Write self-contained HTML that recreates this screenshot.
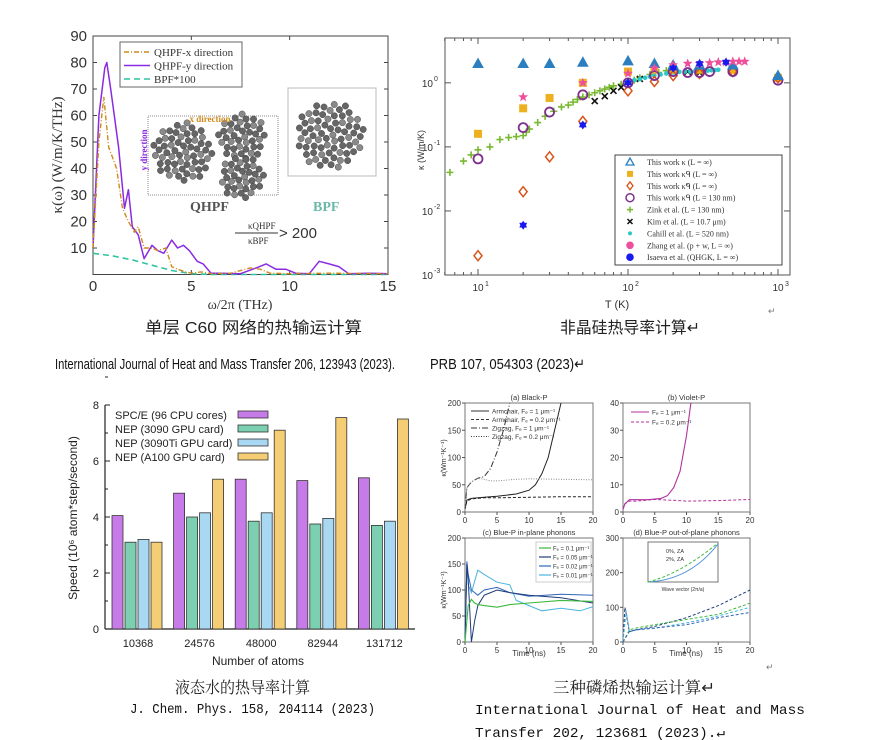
<!DOCTYPE html>
<html><head><meta charset="utf-8"><style>
html,body{margin:0;padding:0;background:#fff}
svg{display:block;font-family:"Liberation Sans","Noto Sans CJK SC",sans-serif}
</style></head><body>
<svg id="s" width="869" height="740" viewBox="0 0 869 740" xmlns="http://www.w3.org/2000/svg">
<rect width="869" height="740" fill="#fff"/>
<g font-family="'Liberation Sans','Noto Sans CJK SC',sans-serif">
<text x="145" y="333" font-size="16" textLength="217" lengthAdjust="spacingAndGlyphs" fill="#222">单层 C60 网络的热输运计算</text>
<text x="560" y="333" font-size="16" textLength="140" lengthAdjust="spacingAndGlyphs" fill="#222">非晶硅热导率计算↵</text>
<text x="55" y="369" font-size="15" textLength="340" lengthAdjust="spacingAndGlyphs" fill="#111">International Journal of Heat and Mass Transfer 206, 123943 (2023).</text>
<text x="430" y="369" font-size="15" textLength="155" lengthAdjust="spacingAndGlyphs" fill="#111">PRB 107, 054303 (2023)↵</text>
<text x="768" y="314" font-size="9" fill="#777">↵</text>
<text x="175" y="693" font-size="16" textLength="135" lengthAdjust="spacingAndGlyphs" fill="#222" font-family="'Noto Serif CJK SC',serif">液态水的热导率计算</text>
<text x="553" y="693" font-size="16" textLength="162" lengthAdjust="spacingAndGlyphs" fill="#222" font-family="'Noto Serif CJK SC',serif">三种磷烯热输运计算↵</text>
<text x="130" y="713" font-size="14" textLength="245" lengthAdjust="spacingAndGlyphs" fill="#111" font-family="'Liberation Mono',monospace">J. Chem. Phys. 158, 204114 (2023)</text>
<text x="475" y="714" font-size="14" textLength="330" lengthAdjust="spacingAndGlyphs" fill="#111" font-family="'Liberation Mono',monospace">International Journal of Heat and Mass</text>
<text x="475" y="737" font-size="14" textLength="250" lengthAdjust="spacingAndGlyphs" fill="#111" font-family="'Liberation Mono',monospace">Transfer 202, 123681 (2023).↵</text>
<text x="766" y="670" font-size="9" fill="#777">↵</text>
</g>
</svg>
<script>
// ---------- Chart A data (kappa spectrum) ----------
const aYx=[0,0.3,0.6,0.7,0.9,1.3,1.6,1.8,2.0,2.3,2.6,3.0,3.3,3.6,4.0,4.3,4.6,4.9,5.3,5.6,6.0,6.5,7.5,8.3,8.8,9.3,9.8,10.3,11.0,11.5,12.0,12.5,13.0,14.0,15];
const aYv=[10,60,78,80,70,48,25,32,18,15,6,11,9,8,13,10,11,9,5,4,0.5,0.5,0.3,2.5,4,2,2,0.5,0.3,5,4,3,0.3,0.5,0.3];
const aXx=[0,0.3,0.55,0.8,1.0,1.2,1.5,1.8,2.1,2.3,2.6,3.0,3.3,3.7,4.0,4.3,4.7,5.0,5.5,6,7,8,8.5,9,10,12,15];
const aXv=[10,50,67,48,44,40,25,20,16,18,10,10,9,10,3,2,1,0.5,1,0.3,0.5,2.5,2,0.5,0.3,0.5,0.3];
const aBx=[0,1,2,3,4,5,6,15];
const aBv=[8,7,5.5,3.5,1.5,0.3,0,0];
const aXticks=[0,5,10,15];
const aYticks=[10,20,30,40,50,60,70,80,90];
// ---------- Chart B data (a-Si) ----------
const bT=[10,20,30,50,100,150,200,300,500,1000];
const bTri=[2,2,2,2.1,2.2,2,1.9,1.9,1.9,1.3];
const bSq=[0.16,0.4,0.58,1.0,1.5,1.6,1.6,1.6,1.6,1.2];
const bDia=[0.002,0.02,0.07,0.25,0.75,1.05,1.3,1.4,1.5,1.2];
const bCircT=[10,20,30,50,100,150,200,250,300,350,500,1000];
const bCirc=[0.065,0.2,0.35,0.65,1.0,1.3,1.5,1.45,1.45,1.5,1.5,1.1];
const bZinkT=[6.5,8,9,10,12,14,16,18,20,21,22,25,28,32,36,40,43,46,50,55,60,65,70,75,80,90,100,110,120,140,160,180,200];
const bZink=[0.04,0.06,0.075,0.09,0.1,0.13,0.14,0.145,0.15,0.17,0.19,0.24,0.3,0.36,0.42,0.45,0.5,0.55,0.6,0.65,0.7,0.75,0.8,0.85,0.9,0.95,1.0,1.1,1.2,1.35,1.45,1.55,1.6];
const bKimT=[60,70,80,90,120,200,250,300];
const bKim=[0.52,0.62,0.75,0.85,1.15,1.5,1.5,1.45];
const bCahT=[100,110,120,130,140,150,165,180,200,220,240,260,280,300,320,340,360,380,400];
const bCah=[1.05,1.1,1.15,1.2,1.25,1.3,1.35,1.4,1.45,1.48,1.5,1.5,1.52,1.53,1.55,1.55,1.57,1.58,1.6];
const bZhT=[20,50,100,150,200,250,300,350,400,450,500,550,600];
const bZh=[0.6,1.0,1.4,1.7,1.9,2.0,2.0,2.05,2.1,2.1,2.15,2.15,2.15];
const bIsT=[20,50,100,200,300,450];
const bIs=[0.006,0.22,1.0,1.7,2.0,2.1];
// ---------- Chart C data (speed bars) ----------
const cCats=["10368","24576","48000","82944","131712"];
const cSPC=[4.05,4.85,5.35,5.3,5.4];
const cNEP3090=[3.1,4.0,3.85,3.75,3.7];
const cNEP3090Ti=[3.2,4.15,4.15,3.95,3.85];
const cA100=[3.1,5.35,7.1,7.55,7.5];
const cYticks=[0,2,4,6,8];
// ---------- Chart D data (phosphorene) ----------
const dA1t=[0,0.3,1,3,5,8,10,11,12,13,14,15], dA1k=[5,22,25,27,29,33,40,50,70,100,150,200];
const dA2t=[0,0.3,1,3,5,10,15,20], dA2k=[5,20,24,26,26,27,28,28];
const dZ1t=[0,0.3,1,2,3,4,5,6,7], dZ1k=[5,45,55,62,65,80,110,150,200];
const dZ2t=[0,0.3,1,2,3,4,5,8,10,15,20], dZ2k=[5,45,55,62,60,57,57,60,61,60,59];
const dV1t=[0,0.3,1,2,4,6,7,8,9,10,10.7], dV1k=[1,3,4.5,4.5,4.5,5,6,9,15,28,40];
const dV2t=[0,0.3,1,2,5,8,10,15,20], dV2k=[1,3,4,4,4.6,4.3,4,4.2,4.6];
const dC1t=[0,0.5,1,1.5,2,3,5,7,10,15,20], dC1k=[0,70,82,75,72,70,67,72,75,80,78];
const dC2t=[0,0.3,0.5,1,1.5,2,3,4,5,7,10,15,20], dC2k=[0,150,120,0,40,70,90,95,100,95,90,85,75];
const dC3t=[0,0.3,0.5,1,2,3,5,7,10,15,20], dC3k=[0,155,130,100,90,100,105,95,88,92,90];
const dC4t=[0,0.3,0.5,1,2,3,5,7,8,10,12,15,18,20], dC4k=[0,150,110,95,138,130,115,110,80,70,60,65,60,68];
const dD1t=[0,0.3,1,2,5,10,15,20], dD1k=[0,100,30,35,45,70,105,150];
const dD2t=[0,1,2,5,10,15,20], dD2k=[0,35,40,50,65,80,112];
const dD3t=[0,0.5,1,2,5,10,15,20], dD3k=[0,90,30,35,40,55,75,100];
const dD4t=[0,1,2,5,10,15,20], dD4k=[0,30,35,40,50,70,85];

const NS="http://www.w3.org/2000/svg";
const S=document.getElementById('s');
function el(tag,attrs,parent){const e=document.createElementNS(NS,tag);for(const k in attrs)e.setAttribute(k,attrs[k]);(parent||S).appendChild(e);return e;}
function lin(d0,d1,r0,r1){return v=>r0+(v-d0)/(d1-d0)*(r1-r0);}
function logs(d0,d1,r0,r1){return v=>r0+(Math.log10(v)-d0)/(d1-d0)*(r1-r0);}
function poly(xs,ys,sx,sy,attrs,name,g){const p=xs.map((x,i)=>sx(x).toFixed(1)+","+sy(ys[i]).toFixed(1)).join(" ");const e=el('polyline',Object.assign({points:p,fill:'none'},attrs),g);


return e;}
function txt(x,y,s,attrs,name,g){const e=el('text',Object.assign({x:x,y:y},attrs),g);e.textContent=s;


return e;}

// ===== Chart A =====
(function(){
const g=el('g',{});


const sx=lin(0,15,93,388), sy=lin(0,90,274.5,36);
el('rect',{x:93,y:36,width:295,height:238.5,fill:'none',stroke:'#444','stroke-width':1},g);
aXticks.forEach(t=>{el('line',{x1:sx(t),x2:sx(t),y1:274.5,y2:270,stroke:'#444'},g);el('line',{x1:sx(t),x2:sx(t),y1:36,y2:40,stroke:'#444'},g);txt(sx(t),291,t,{'font-size':15,'text-anchor':'middle',fill:'#333'},'x-tick-label',g);});
aYticks.forEach(t=>{el('line',{x1:93,x2:97,y1:sy(t),y2:sy(t),stroke:'#444'},g);el('line',{x1:388,x2:384,y1:sy(t),y2:sy(t),stroke:'#444'},g);txt(87,sy(t)+5,t,{'font-size':15,'text-anchor':'end',fill:'#333'},'y-tick-label',g);});
txt(240,309,'ω/2π (THz)',{'font-size':14,'text-anchor':'middle',fill:'#333','font-family':'Liberation Serif,serif'},'x-axis-title',g);
txt(0,0,'κ(ω) (W/m/K/THz)',{'font-size':15,'text-anchor':'middle',fill:'#333','font-family':'Liberation Serif,serif',transform:'translate(62,155) rotate(-90)'},'y-axis-title',g);
el('rect',{x:148,y:116,width:130,height:79,fill:'none',stroke:'#888','stroke-dasharray':'1,1'},g);
el('rect',{x:288,y:88,width:88,height:88,fill:'none',stroke:'#bbb'},g);
function cluster(cx,cy,r,n){for(let i=0;i<n;i++){const a=i*2.39996, rr=r*Math.sqrt((i+0.5)/n);el('circle',{cx:cx+rr*Math.cos(a),cy:cy+rr*Math.sin(a),r:3.2,fill:i%3?'#666':'#8a8a8a',stroke:'#333','stroke-width':0.4},g);}}
cluster(183,152,30,60);cluster(242,137,24,40);cluster(242,177,22,36);cluster(330,135,34,70);
txt(210,122,'x direction',{'font-size':9,'font-weight':'bold',fill:'#d08a1a','text-anchor':'middle','font-family':'Liberation Serif,serif'},'inset-x-direction',g);
txt(0,0,'y direction',{'font-size':9,'font-weight':'bold',fill:'#8a2be2','text-anchor':'middle','font-family':'Liberation Serif,serif',transform:'translate(147,150) rotate(-90)'},'inset-y-direction',g);
txt(190,211,'QHPF',{'font-size':14,'font-weight':'bold',fill:'#555','font-family':'Liberation Serif,serif'},'inset-qhpf',g);
txt(313,211,'BPF',{'font-size':14,'font-weight':'bold',fill:'#6ab8a8','font-family':'Liberation Serif,serif'},'inset-bpf',g);
txt(248,229,'κQHPF',{'font-size':9,fill:'#333','font-family':'Liberation Serif,serif'},'ratio-num',g);
el('line',{x1:235,x2:278,y1:233,y2:233,stroke:'#333'},g);
txt(248,244,'κBPF',{'font-size':9,fill:'#333','font-family':'Liberation Serif,serif'},'ratio-den',g);
txt(279,238,'> 200',{'font-size':15,fill:'#333'},'ratio-value',g);
poly(aBx,aBv,sx,sy,{stroke:'#2ec4a0','stroke-width':1.6,'stroke-dasharray':'6,4'},'series-bpf',g);
poly(aYx,aYv,sx,sy,{stroke:'#8a2be2','stroke-width':1.5,'stroke-linejoin':'round'},'series-qhpf-y',g);
poly(aXx,aXv,sx,sy,{stroke:'#d08a1a','stroke-width':1.4,'stroke-dasharray':'5,2,1,2'},'series-qhpf-x',g);
const lg=el('g',{},g);


el('rect',{x:120,y:42,width:122,height:45,fill:'#fff',stroke:'#666'},lg);
[['QHPF-x direction','#d08a1a','5,2,1,2'],['QHPF-y direction','#8a2be2',''],['BPF*100','#2ec4a0','6,4']].forEach((r,i)=>{const y=52+i*13.5;el('line',{x1:124,x2:150,y1:y,y2:y,stroke:r[1],'stroke-width':1.5,'stroke-dasharray':r[2]},lg);txt(154,y+4,r[0],{'font-size':11,fill:'#333','font-family':'Liberation Serif,serif'},'legend-entry',lg);});
})();

// ===== Chart B =====
(function(){
const g=el('g',{});


const sx=logs(0.78,3.08,445,790), sy=logs(-3,0.7,275,38);
el('rect',{x:445,y:38,width:345,height:237,fill:'none',stroke:'#555'},g);
[1,2,3].forEach(d=>{const x=sx(Math.pow(10,d));el('line',{x1:x,x2:x,y1:275,y2:269,stroke:'#555'},g);el('line',{x1:x,x2:x,y1:38,y2:44,stroke:'#555'},g);txt(x,291,'10',{'font-size':10,'text-anchor':'middle',fill:'#333'},'x-tick-label',g);txt(x+7,286,d,{'font-size':7,fill:'#333'},'x-tick-exp',g);
 for(let m=2;m<10;m++){const v=m*Math.pow(10,d-1);if(v<6||v>1200)continue;const xm=sx(v);el('line',{x1:xm,x2:xm,y1:275,y2:272,stroke:'#555'},g);el('line',{x1:xm,x2:xm,y1:38,y2:41,stroke:'#555'},g);}});
[-3,-2,-1,0].forEach(d=>{const y=sy(Math.pow(10,d));el('line',{x1:445,x2:451,y1:y,y2:y,stroke:'#555'},g);el('line',{x1:790,x2:784,y1:y,y2:y,stroke:'#555'},g);txt(433,y+4,'10',{'font-size':10,'text-anchor':'end',fill:'#333'},'y-tick-label',g);txt(434,y-2,d,{'font-size':7,fill:'#333'},'y-tick-exp',g);});
txt(617,308,'T (K)',{'font-size':11,'text-anchor':'middle',fill:'#333'},'x-axis-title',g);
txt(0,0,'κ (W/m/K)',{'font-size':9,'text-anchor':'middle',fill:'#333',transform:'translate(424,150) rotate(-90)'},'y-axis-title',g);
function marks(T,K,shape,col,name){T.forEach((t,i)=>{const x=sx(t),y=sy(K[i]);let e;
 if(shape==='tri')e=el('polygon',{points:`${x},${y-5} ${x-5},${y+4} ${x+5},${y+4}`,fill:col,stroke:col},g);
 else if(shape==='sq')e=el('rect',{x:x-4,y:y-4,width:8,height:8,fill:col},g);
 else if(shape==='dia')e=el('polygon',{points:`${x},${y-5} ${x-4},${y} ${x},${y+5} ${x+4},${y}`,fill:'none',stroke:col,'stroke-width':1.5},g);
 else if(shape==='circ')e=el('circle',{cx:x,cy:y,r:4.5,fill:'none',stroke:col,'stroke-width':1.8},g);
 else if(shape==='plus')e=el('path',{d:`M${x-3.5},${y}H${x+3.5}M${x},${y-3.5}V${y+3.5}`,stroke:col,'stroke-width':1.6},g);
 else if(shape==='x')e=el('path',{d:`M${x-3},${y-3}L${x+3},${y+3}M${x+3},${y-3}L${x-3},${y+3}`,stroke:col,'stroke-width':1.6},g);
 else if(shape==='dot')e=el('circle',{cx:x,cy:y,r:2.3,fill:col},g);
 else if(shape==='star'){let p=[];for(let k=0;k<10;k++){const r=k%2?2.2:5.2,a=-Math.PI/2+k*Math.PI/5;p.push((x+r*Math.cos(a)).toFixed(1)+','+(y+r*Math.sin(a)).toFixed(1));}e=el('polygon',{points:p.join(' '),fill:col},g);}
 else if(shape==='hex'){let p=[];for(let k=0;k<12;k++){const r=k%2?2.8:4.5,a=-Math.PI/2+k*Math.PI/6;p.push((x+r*Math.cos(a)).toFixed(1)+','+(y+r*Math.sin(a)).toFixed(1));}e=el('polygon',{points:p.join(' '),fill:col},g);}
 
 
});}
marks(bZinkT,bZink,'plus','#77b82e','point-zink');
marks(bKimT,bKim,'x','#111','point-kim');
marks(bCahT,bCah,'dot','#2bc8c8','point-cahill');
marks(bT,bSq,'sq','#edb120','point-kappa-q');
marks(bT,bDia,'dia','#d95319','point-kappa-tilde');
marks(bCircT,bCirc,'circ','#7e2f8e','point-kappa-130nm');
marks(bT,bTri,'tri','#2b7fc0','point-kappa');
marks(bZhT,bZh,'star','#ee4f9a','point-zhang');
marks(bIsT,bIs,'hex','#1a1aee','point-isaeva');
const lg=el('g',{},g);


el('rect',{x:615,y:155,width:167,height:110,fill:'#fff',stroke:'#444'},lg);
const labs=[['tri','#2b7fc0','This work κ (L = ∞)'],['sq','#edb120','This work κᑫ (L = ∞)'],['dia','#d95319','This work κ̃ᑫ (L = ∞)'],['circ','#7e2f8e','This work κᑫ (L = 130 nm)'],['plus','#77b82e','Zink et al. (L = 130 nm)'],['x','#111','Kim et al. (L = 10.7 μm)'],['dot','#2bc8c8','Cahill et al. (L = 520 nm)'],['star','#ee4f9a','Zhang et al. (p + w, L = ∞)'],['hex','#1a1aee','Isaeva et al. (QHGK, L = ∞)']];
labs.forEach((l,i)=>{const y=162+i*11.9;const c=l[1];
 if(l[0]==='tri')el('polygon',{points:`630,${y-4} 626,${y+3} 634,${y+3}`,fill:'none',stroke:c,'stroke-width':1.3},lg);
 else if(l[0]==='sq')el('rect',{x:627,y:y-3,width:6,height:6,fill:c},lg);
 else if(l[0]==='dia')el('polygon',{points:`630,${y-4} 627,${y} 630,${y+4} 633,${y}`,fill:'none',stroke:c,'stroke-width':1.3},lg);
 else if(l[0]==='circ')el('circle',{cx:630,cy:y,r:4,fill:'none',stroke:c,'stroke-width':1.5},lg);
 else if(l[0]==='plus')el('path',{d:`M627,${y}H633M630,${y-3}V${y+3}`,stroke:c,'stroke-width':1.5},lg);
 else if(l[0]==='x')el('path',{d:`M627.5,${y-2.5}L632.5,${y+2.5}M632.5,${y-2.5}L627.5,${y+2.5}`,stroke:c,'stroke-width':1.5},lg);
 else if(l[0]==='dot')el('circle',{cx:630,cy:y,r:2,fill:c},lg);
 else el('circle',{cx:630,cy:y,r:3.8,fill:c},lg);
 txt(647,y+3,l[2],{'font-size':8,fill:'#333','font-family':'Liberation Serif,serif'},'legend-entry',lg);});
})();

// ===== Chart C =====
(function(){
const g=el('g',{});


const sy=lin(0,8,629,405), gx=i=>137+i*61.6, bw=11, pitch=13;
el('line',{x1:105,x2:105,y1:405,y2:629,stroke:'#222','stroke-width':1.2},g);
el('line',{x1:105,x2:415,y1:629,y2:629,stroke:'#222','stroke-width':1.2},g);
cYticks.forEach(t=>{el('line',{x1:105,x2:110,y1:sy(t),y2:sy(t),stroke:'#222'},g);el('line',{x1:105,x2:108,y1:sy(t+1),y2:sy(t+1),stroke:'#222'},g);txt(99,sy(t)+4,t,{'font-size':11,'text-anchor':'end',fill:'#222'},'y-tick-label',g);});
const series=[[cSPC,'#c77be8','bar-spce'],[cNEP3090,'#7ccfb0','bar-nep-3090'],[cNEP3090Ti,'#a9d8f2','bar-nep-3090ti'],[cA100,'#f4cd74','bar-nep-a100']];
cCats.forEach((c,i)=>{series.forEach((s,j)=>{const x=gx(i)+(j-2)*pitch+1;const r=el('rect',{x:x,y:sy(s[0][i]),width:bw,height:629-sy(s[0][i]),fill:s[1],stroke:'#333','stroke-width':0.8},g);
 
 });
 txt(gx(i)+1,647,c,{'font-size':11,'text-anchor':'middle',fill:'#222'},'x-tick-label',g);});
txt(258,665,'Number of atoms',{'font-size':12,'text-anchor':'middle',fill:'#222'},'x-axis-title',g);
txt(0,0,'Speed (10⁶ atom*step/second)',{'font-size':12,'text-anchor':'middle',fill:'#222',transform:'translate(77,518) rotate(-90)'},'y-axis-title',g);
const lg=el('g',{},g);


[['SPC/E (96 CPU cores)','#c77be8'],['NEP (3090 GPU card)','#7ccfb0'],['NEP (3090Ti GPU card)','#a9d8f2'],['NEP (A100 GPU card)','#f4cd74']].forEach((l,i)=>{const y=415+i*14;txt(115,y+4,l[0],{'font-size':11,fill:'#222'},'legend-entry',lg);el('rect',{x:238,y:y-4,width:30,height:7,fill:l[1],stroke:'#333','stroke-width':0.8},lg);});
})();

// ===== Chart D =====
(function(){
const g=el('g',{'font-size':7,fill:'#333'});


function panel(x0,x1,y0,y1,ymax,yt,title,name){const p=el('g',{},g);
 
 
 const sx=lin(0,20,x0,x1), sy=lin(0,ymax,y1,y0);
 el('rect',{x:x0,y:y0,width:x1-x0,height:y1-y0,fill:'none',stroke:'#777'},p);
 [0,5,10,15,20].forEach(t=>{el('line',{x1:sx(t),x2:sx(t),y1:y1,y2:y1+3,stroke:'#555'},p);txt(sx(t),y1+11,t,{'text-anchor':'middle','font-size':8},'x-tick-label',p);});
 yt.forEach(t=>{el('line',{x1:x0-3,x2:x0,y1:sy(t),y2:sy(t),stroke:'#555'},p);txt(x0-4,sy(t)+3,t,{'text-anchor':'end','font-size':8},'y-tick-label',p);});
 txt((x0+x1)/2,y0-3,title,{'text-anchor':'middle','font-size':7.5},'panel-title',p);
 return {sx,sy,p};}
const A=panel(465,593,403,512,200,[0,50,100,150,200],'(a) Black-P','panel-black-p');
const B=panel(623,750,403,512,40,[0,10,20,30,40],'(b) Violet-P','panel-violet-p');
const C=panel(465,593,538,642,200,[0,50,100,150,200],'(c) Blue-P in-plane phonons','panel-blue-in-plane');
const D=panel(623,750,538,642,300,[0,100,200,300],'(d) Blue-P out-of-plane phonons','panel-blue-out-of-plane');
poly(dA1t,dA1k,A.sx,A.sy,{stroke:'#222','stroke-width':1},'line-armchair-1',A.p);
poly(dA2t,dA2k,A.sx,A.sy,{stroke:'#222','stroke-width':1,'stroke-dasharray':'3,2'},'line-armchair-02',A.p);
poly(dZ1t,dZ1k,A.sx,A.sy,{stroke:'#333','stroke-width':1,'stroke-dasharray':'6,2,1,2'},'line-zigzag-1',A.p);
poly(dZ2t,dZ2k,A.sx,A.sy,{stroke:'#888','stroke-width':1,'stroke-dasharray':'1,1.5'},'line-zigzag-02',A.p);
[['Armchair, Fₑ = 1 μm⁻¹',''],['Armchair, Fₑ = 0.2 μm⁻¹','3,2'],['Zigzag, Fₑ = 1 μm⁻¹','6,2,1,2'],['Zigzag, Fₑ = 0.2 μm⁻¹','1,1.5']].forEach((l,i)=>{const y=411+i*8.5;el('line',{x1:471,x2:489,y1:y,y2:y,stroke:'#333','stroke-dasharray':l[1]},A.p);txt(492,y+2.5,l[0],{'font-size':6.5},'legend-entry',A.p);});
poly(dV1t,dV1k,B.sx,B.sy,{stroke:'#b0329e','stroke-width':1.1},'line-violet-1',B.p);
poly(dV2t,dV2k,B.sx,B.sy,{stroke:'#b0329e','stroke-width':1,'stroke-dasharray':'3,2'},'line-violet-02',B.p);
[['Fₑ = 1 μm⁻¹',''],['Fₑ = 0.2 μm⁻¹','3,2']].forEach((l,i)=>{const y=412+i*10;el('line',{x1:631,x2:649,y1:y,y2:y,stroke:'#b0329e','stroke-dasharray':l[1]},B.p);txt(652,y+2.5,l[0],{'font-size':6.5},'legend-entry',B.p);});
const cc=['#3cb83c','#1f3d7a','#2f66b8','#4ab4e0'];
poly(dC4t,dC4k,C.sx,C.sy,{stroke:cc[3],'stroke-width':1},'line-blue-001',C.p);
poly(dC3t,dC3k,C.sx,C.sy,{stroke:cc[2],'stroke-width':1},'line-blue-002',C.p);
poly(dC2t,dC2k,C.sx,C.sy,{stroke:cc[1],'stroke-width':1},'line-blue-005',C.p);
poly(dC1t,dC1k,C.sx,C.sy,{stroke:cc[0],'stroke-width':1.1},'line-blue-01',C.p);
el('rect',{x:536,y:542,width:55,height:40,fill:'#fff',stroke:'#ccc'},C.p);
['Fₑ = 0.1 μm⁻¹','Fₑ = 0.05 μm⁻¹','Fₑ = 0.02 μm⁻¹','Fₑ = 0.01 μm⁻¹'].forEach((l,i)=>{const y=548+i*9;el('line',{x1:539,x2:551,y1:y,y2:y,stroke:cc[i],'stroke-width':1.2},C.p);txt(553,y+2.5,l,{'font-size':6},'legend-entry',C.p);});
poly(dD1t,dD1k,D.sx,D.sy,{stroke:'#1f3d7a','stroke-width':1,'stroke-dasharray':'3,2'},'line-outplane-1',D.p);
poly(dD2t,dD2k,D.sx,D.sy,{stroke:'#3cb83c','stroke-width':1,'stroke-dasharray':'3,2'},'line-outplane-2',D.p);
poly(dD3t,dD3k,D.sx,D.sy,{stroke:'#4ab4e0','stroke-width':1,'stroke-dasharray':'3,2'},'line-outplane-3',D.p);
poly(dD4t,dD4k,D.sx,D.sy,{stroke:'#2f66b8','stroke-width':1,'stroke-dasharray':'3,2'},'line-outplane-4',D.p);
el('rect',{x:648,y:542,width:70,height:40,fill:'#fff',stroke:'#777'},D.p);
el('path',{d:'M648,582 Q690,580 718,544',fill:'none',stroke:'#4a90d9','stroke-width':1},D.p);
el('path',{d:'M648,582 Q680,574 718,543',fill:'none',stroke:'#3cb83c','stroke-width':1,'stroke-dasharray':'3,2'},D.p);
txt(666,553,'0%, ZA',{'font-size':5.5},'inset-legend',D.p);txt(666,561,'2%, ZA',{'font-size':5.5},'inset-legend',D.p);
txt(683,591,'Wave vector (2π/a)',{'font-size':5,'text-anchor':'middle'},'inset-x-title',D.p);
txt(529,656,'Time (ns)',{'text-anchor':'middle','font-size':8},'x-axis-title',g);
txt(686,656,'Time (ns)',{'text-anchor':'middle','font-size':8},'x-axis-title',g);
txt(0,0,'κ(Wm⁻¹K⁻¹)',{'font-size':7,'text-anchor':'middle',transform:'translate(446,458) rotate(-90)'},'y-axis-title',g);
txt(0,0,'κ(Wm⁻¹K⁻¹)',{'font-size':7,'text-anchor':'middle',transform:'translate(446,590) rotate(-90)'},'y-axis-title',g);
})();
</script>
</body></html>
